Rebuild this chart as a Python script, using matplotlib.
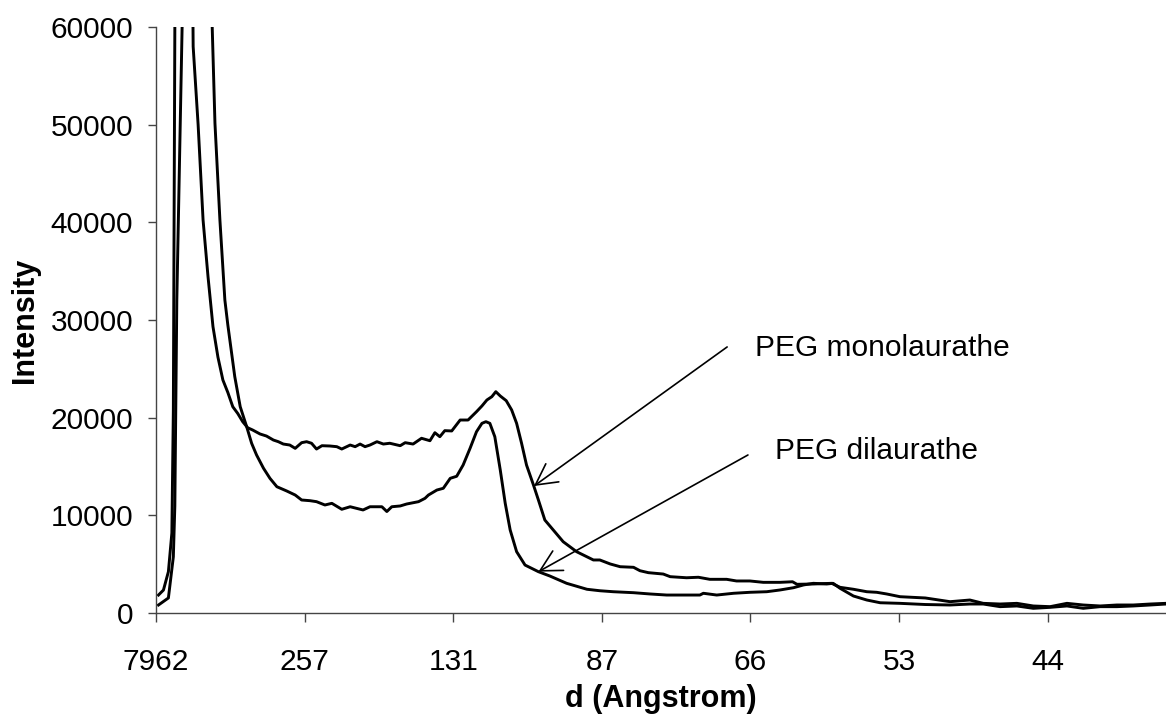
import matplotlib
matplotlib.use("Agg")
import matplotlib.pyplot as plt

plt.rcParams['font.family'] = ['Liberation Sans', 'DejaVu Sans']

# ---- data (channel index along the scan, 30 channels per labelled tick) ----
tick_labels = ["7962", "257", "131", "87", "66", "53", "44"]
tick_channels = [-0.5, 29.5, 59.5, 89.5, 119.5, 149.5, 179.5]

mono_ch = [0, 1.0, 2.0, 2.7, 3.0, 4.0, 5.0, 6.0, 7.0, 8.0, 9.0, 10.0, 11.0, 12.0,
           13.0, 14.0, 15.0, 16.0, 17.0, 18.0, 19.0, 20.5, 21.8, 23.2, 24.2, 25.2,
           26.5, 27.6, 28.9, 29.9, 30.9, 31.9, 33.0, 34.6, 36.0, 37.0, 38.7, 39.7,
           40.7, 41.7, 42.7, 44.1, 45.4, 46.7, 48.8, 49.8, 51.4, 53.1, 54.8, 55.8,
           56.8, 57.8, 59.2, 60.9, 62.5, 64.2, 65.3, 66.3, 67.3, 68.1, 69.0, 70.2,
           71.3, 72.3, 73.3, 74.3, 75.7, 76.7, 78.0, 79.7, 81.7, 84.4, 87.8, 89.1,
           91.2, 93.2, 95.9, 97.2, 98.9, 101.9, 103.3, 106.6, 109.0, 111.3, 114.7,
           116.7, 119.4, 122.1, 125.5, 128.0, 128.9, 132.2, 135.9, 137.6, 140.3,
           143.0, 145.0, 147.0, 149.7, 154.8, 159.8, 163.8, 166.5, 169.9, 173.3,
           176.6, 180.0, 183.4, 186.7, 190.1, 193.5, 196.8, 200.2, 203.4]
mono_I = [1840, 2350, 4230, 8190, 20790, 150000, 180000, 120000, 58000, 50000,
          40240, 34430, 29320, 26200, 23860, 22580, 21120, 20430, 19590, 18970,
          18740, 18330, 18120, 17710, 17540, 17300, 17200, 16860, 17440, 17540,
          17380, 16790, 17130, 17100, 17030, 16790, 17200, 17030, 17300, 17030,
          17200, 17540, 17300, 17380, 17130, 17440, 17300, 17890, 17640, 18460,
          18050, 18670, 18640, 19760, 19760, 20610, 21200, 21810, 22150, 22660,
          22220, 21740, 20790, 19420, 17380, 15150, 13110, 11570, 9520, 8500,
          7300, 6280, 5430, 5430, 5020, 4740, 4680, 4330, 4130, 3990, 3720, 3610,
          3660, 3450, 3450, 3280, 3280, 3140, 3140, 3200, 2940, 2970, 3040, 2630,
          2430, 2180, 2120, 1950, 1670, 1540, 1160, 1330, 990, 920, 990, 720, 650,
          990, 820, 720, 820, 820, 920, 990]

dilau_ch = [0, 2.0, 3.0, 3.3, 3.7, 5.0, 6.0, 7.0, 8.0, 9.0, 10.0, 11.4, 12.4, 13.4,
            14.0, 15.4, 16.5, 17.8, 18.8, 19.8, 21.2, 22.5, 23.9, 25.9, 27.6, 28.9,
            30.6, 31.9, 33.6, 35.0, 37.0, 38.7, 41.3, 42.7, 45.1, 46.1, 47.1, 48.8,
            50.1, 52.5, 53.8, 54.5, 56.2, 57.5, 58.9, 60.2, 61.5, 62.9, 64.2, 65.3,
            66.1, 66.9, 67.9, 69.0, 70.0, 71.0, 72.3, 74.0, 76.7, 79.0, 82.4, 86.5,
            89.1, 91.8, 95.9, 99.2, 102.6, 106.0, 109.3, 110.0, 112.7, 116.1, 119.4,
            122.8, 125.5, 128.2, 130.2, 132.2, 134.9, 136.2, 137.6, 140.3, 143.0,
            145.7, 149.7, 154.8, 159.8, 163.8, 166.5, 169.9, 173.3, 176.6, 180.0,
            183.4, 186.7, 190.1, 193.5, 196.8, 200.2, 203.4]
dilau_I = [820, 1540, 5760, 10960, 32050, 66000, 150000, 200000, 160000, 110000,
           75000, 50140, 40240, 32050, 29490, 24200, 21120, 19080, 17380, 16180,
           14820, 13790, 12930, 12490, 12080, 11570, 11500, 11400, 11060, 11230,
           10620, 10880, 10550, 10880, 10880, 10390, 10880, 10960, 11160, 11400,
           11740, 12080, 12590, 12770, 13790, 14000, 15150, 16860, 18560, 19420,
           19590, 19420, 18050, 14640, 11230, 8500, 6280, 4910, 4230, 3790, 3040,
           2430, 2280, 2180, 2080, 1950, 1840, 1840, 1840, 2020, 1840, 2020, 2120,
           2180, 2360, 2590, 2870, 3040, 2970, 3040, 2530, 1740, 1330, 1050, 990,
           870, 820, 920, 920, 650, 720, 480, 580, 720, 480, 650, 650, 720, 820, 920]

y_ticks = [0, 10000, 20000, 30000, 40000, 50000, 60000]

# ---- figure ----
fig = plt.figure(figsize=(11.66, 7.2), dpi=100)
ax = fig.add_axes([0.1338, 0.1486, 0.8662, 0.8139])

ax.plot(mono_ch, mono_I, color='black', lw=2.1, solid_joinstyle='round')
ax.plot(dilau_ch, dilau_I, color='black', lw=2.1, solid_joinstyle='round')

ax.set_xlim(-0.5, 203.4)
ax.set_ylim(0, 60000)
ax.set_yticks(y_ticks)
ax.set_yticklabels([str(v) for v in y_ticks])
ax.set_xticks(tick_channels)
ax.set_xticklabels(tick_labels)

for s in ['top', 'right']:
    ax.spines[s].set_visible(False)
for s in ['left', 'bottom']:
    ax.spines[s].set_color('#444444')
    ax.spines[s].set_linewidth(1.0)

ax.tick_params(axis='x', direction='out', length=6.8, width=1.0, color='#444444',
               labelsize=21.5, pad=18.5)
ax.tick_params(axis='y', direction='out', length=5.8, width=1.0, color='#444444',
               labelsize=21.5, pad=10.5)

ax.set_xlabel('d (Angstrom)', fontsize=22, fontweight='bold', labelpad=6)
ax.set_ylabel('Intensity', fontsize=22, fontweight='bold', labelpad=8)

arrow = dict(arrowstyle='->,head_length=1.5,head_width=0.8', color='black',
             lw=1.2, shrinkA=0, shrinkB=0, mutation_scale=10)
ax.annotate('', xy=(75.8, 13000), xytext=(114.8, 27240), arrowprops=arrow)
ax.annotate('', xy=(76.7, 4230), xytext=(119.0, 16180), arrowprops=arrow)
ax.text(120.4, 27130, 'PEG monolaurathe', fontsize=21.5, ha='left', va='center')
ax.text(124.5, 16590, 'PEG dilaurathe', fontsize=21.5, ha='left', va='center')

fig.savefig('out.png', dpi=100)
